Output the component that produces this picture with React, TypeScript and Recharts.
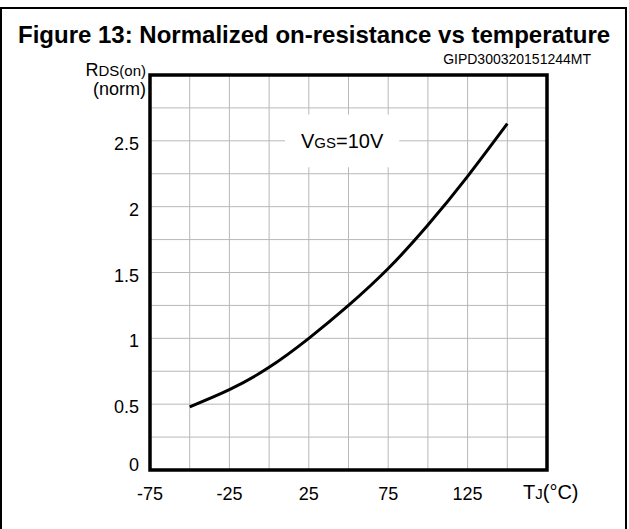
import React from "react";
import {
  LineChart,
  Line,
  XAxis,
  YAxis,
  CartesianGrid,
  ReferenceArea,
} from "recharts";

// Tj (°C) and normalized RDS(on)
const temps = [-50, -25, 0, 25, 50, 75, 100, 125, 150];
const rdsNorm = [0.48, 0.61, 0.78, 1.0, 1.25, 1.53, 1.86, 2.23, 2.63];

const xTicks = [-75, -50, -25, 0, 25, 50, 75, 100, 125, 150, 175];
const xLabels = [-75, -25, 25, 75, 125];
const yTicks = [0, 0.25, 0.5, 0.75, 1, 1.25, 1.5, 1.75, 2, 2.25, 2.5, 2.75, 3];
const yLabels = [0, 0.5, 1, 1.5, 2, 2.5];

const data = temps.map((t, i) => ({ t, r: rdsNorm[i] }));

const FONT = "'Liberation Sans', Arial, sans-serif";

interface TickProps {
  x?: number;
  y?: number;
  payload?: { value: number };
}

function XTick({ x = 0, y = 0, payload }: TickProps) {
  const v = payload?.value;
  if (v === 175) {
    return (
      <text x={x - 24} y={y + 21} fontSize={20} fill="#000" fontFamily={FONT}>
        T<tspan fontSize={15}>J</tspan>
        <tspan fontSize={20}>(°C)</tspan>
      </text>
    );
  }
  if (v === undefined || !xLabels.includes(v)) return null;
  return (
    <text x={x} y={y + 22} textAnchor="middle" fontSize={18} fill="#000" fontFamily={FONT}>
      {v}
    </text>
  );
}

function YTick({ x = 0, y = 0, payload }: TickProps) {
  const v = payload?.value;
  if (v === 3) {
    return (
      <g fontFamily={FONT} fill="#000">
        <text x={x + 4} y={y + 1} textAnchor="end" fontSize={18}>
          R<tspan fontSize={15}>DS(on)</tspan>
        </text>
        <text x={x + 4} y={y + 20} textAnchor="end" fontSize={18}>
          (norm)
        </text>
      </g>
    );
  }
  if (v === undefined || !yLabels.includes(v)) return null;
  return (
    <text
      x={x - 3}
      y={v === 0 ? y + 1 : y + 9}
      textAnchor="end"
      fontSize={18}
      fill="#000"
      fontFamily={FONT}
    >
      {v}
    </text>
  );
}

function VgsLabel(props: { viewBox?: { x: number; y: number; width: number; height: number } }) {
  const vb = props.viewBox;
  if (!vb) return null;
  return (
    <text
      x={vb.x + vb.width / 2}
      y={vb.y + vb.height / 2 + 7}
      textAnchor="middle"
      fontSize={20}
      fill="#000"
      fontFamily={FONT}
    >
      V<tspan fontSize={15}>GS</tspan>=10V
    </text>
  );
}

export default function App() {
  return (
    <div
      style={{
        position: "absolute",
        left: 0,
        top: 0,
        width: 629,
        height: 529,
        overflow: "hidden",
        background: "#fff",
        fontFamily: FONT,
      }}
    >
      <div
        style={{
          position: "absolute",
          left: 0,
          top: 7,
          width: 623,
          height: 560,
          border: "2px solid #000",
        }}
      />
      <div
        style={{
          position: "absolute",
          left: 18,
          top: 21,
          fontSize: 24,
          fontWeight: "bold",
          whiteSpace: "nowrap",
          lineHeight: "28px",
        }}
      >
        Figure 13: Normalized on-resistance vs temperature
      </div>
      <div
        style={{
          position: "absolute",
          right: 38,
          top: 52,
          fontSize: 14,
          whiteSpace: "nowrap",
          lineHeight: "14px",
        }}
      >
        GIPD300320151244MT
      </div>
      <div style={{ position: "absolute", left: 0, top: 0 }}>
        <LineChart
          width={629}
          height={529}
          data={data}
          margin={{ top: 75, right: 82, bottom: 19, left: 90 }}
        >
          <CartesianGrid stroke="#b8b8b8" strokeWidth={1} />
          <XAxis
            type="number"
            dataKey="t"
            domain={[-75, 175]}
            ticks={xTicks}
            interval={0}
            axisLine={false}
            tickLine={false}
            height={40}
            tick={<XTick />}
          />
          <YAxis
            type="number"
            domain={[0, 3]}
            ticks={yTicks}
            interval={0}
            axisLine={false}
            tickLine={false}
            width={60}
            tick={<YTick />}
          />
          <ReferenceArea
            x1={10}
            x2={82}
            y1={2.3}
            y2={2.7}
            fill="#fff"
            fillOpacity={1}
            stroke="none"
            label={<VgsLabel />}
          />
          <ReferenceArea
            x1={-75}
            x2={175}
            y1={0}
            y2={3}
            fill="none"
            stroke="#000"
            strokeWidth={3.5}
          />
          <Line
            type="natural"
            dataKey="r"
            stroke="#000"
            strokeWidth={3}
            dot={false}
            isAnimationActive={false}
          />
        </LineChart>
      </div>
    </div>
  );
}
